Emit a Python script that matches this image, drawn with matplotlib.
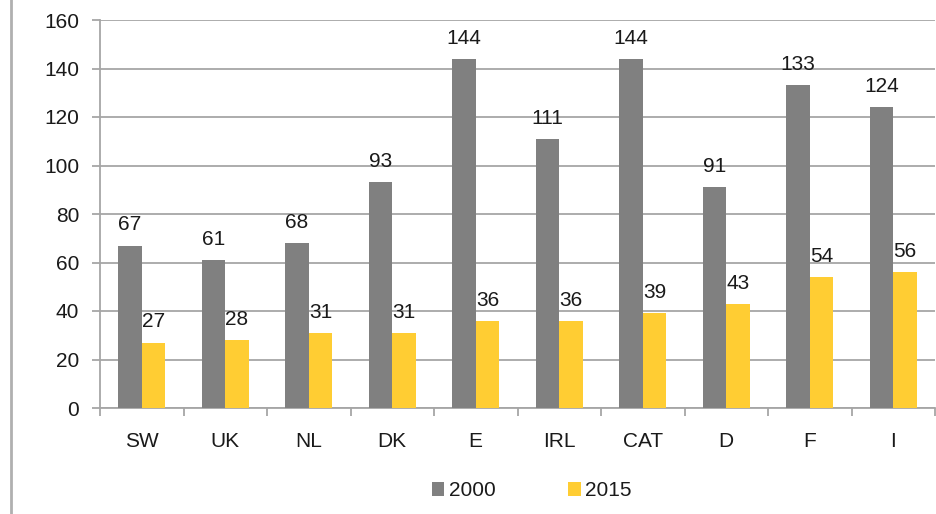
import numpy as np
import matplotlib.pyplot as plt
from matplotlib.lines import Line2D

plt.rcParams['font.family'] = ['Liberation Sans', 'DejaVu Sans']

# data
countries = ["SW", "UK", "NL", "DK", "E", "IRL", "CAT", "D", "F", "I"]
vals_2000 = [67, 61, 68, 93, 144, 111, 144, 91, 133, 124]
vals_2015 = [27, 28, 31, 31, 36, 36, 39, 43, 54, 56]
y_ticks = [0, 20, 40, 60, 80, 100, 120, 140, 160]

grey = "#808080"
yellow = "#FFCD33"
axis_col = "#A6A6A6"
txt = "#1a1a1a"
fs = 15

fig = plt.figure(figsize=(9.36, 5.14), dpi=100)
ax = fig.add_axes([100 / 936, 106 / 514, 835 / 936, 388 / 514])

x = np.arange(len(countries))
w = 0.28
b1 = ax.bar(x - w / 2, vals_2000, w, color=grey, label="2000", zorder=3)
b2 = ax.bar(x + w / 2, vals_2015, w, color=yellow, label="2015", zorder=3)

for bars in (b1, b2):
    for r in bars:
        ax.annotate(f"{int(r.get_height())}",
                    (r.get_x() + r.get_width() / 2, r.get_height()),
                    xytext=(0, 8), textcoords="offset points",
                    ha="center", va="bottom", fontsize=fs, color=txt)

ax.set_xlim(-0.5, len(countries) - 0.5)
ax.set_ylim(0, 160)
ax.set_yticks(y_ticks)
ax.set_yticklabels([str(v) for v in y_ticks], fontsize=fs, color=txt)
ax.set_xticks(x)
ax.set_xticklabels(countries, fontsize=fs, color=txt)
ax.set_xticks(np.arange(-0.5, len(countries)), minor=True)

ax.tick_params(axis="x", which="major", length=0, pad=17)
ax.tick_params(axis="x", which="minor", length=6, color=axis_col, width=1.3)
ax.tick_params(axis="y", length=6, color=axis_col, width=1.3, pad=9)

ax.grid(axis="y", color=axis_col, linewidth=1.3, zorder=0)
for s in ("top", "right"):
    ax.spines[s].set_visible(False)
for s in ("left", "bottom"):
    ax.spines[s].set_color(axis_col)
    ax.spines[s].set_linewidth(1.3)

fig.legend(handles=[b1, b2], labels=["2000", "2015"], loc="center",
           bbox_to_anchor=(0.568, 0.045), ncol=2, frameon=False,
           fontsize=fs, handlelength=0.6, handleheight=0.6,
           handletextpad=0.2, columnspacing=3.5, labelcolor=txt)

fig.add_artist(Line2D([11 / 936, 11 / 936], [0, 1], color="#B0B0B0",
                      linewidth=2, transform=fig.transFigure))

fig.savefig("out.png", dpi=100)
